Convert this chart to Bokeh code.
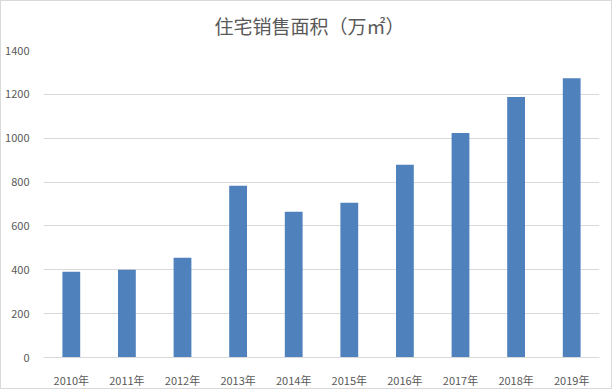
from bokeh.plotting import figure
from bokeh.models import Range1d, FactorRange, FixedTicker, InlineStyleSheet
from bokeh.embed import file_html
from bokeh.resources import INLINE

years = ["2010年", "2011年", "2012年", "2013年", "2014年", "2015年", "2016年", "2017年", "2018年", "2019年"]
areas = [391, 400, 455, 783, 665, 706, 879, 1024, 1188, 1274]
y_ticks = [0, 200, 400, 600, 800, 1000, 1200, 1400]
title_text = "住宅销售面积（万㎡）"

FONT = "Noto Sans CJK SC"
TXT = "#595959"
GRID = "#d9d9d9"

p = figure(width=612, height=389, output_backend="svg", toolbar_location=None,
           x_range=FactorRange(*years, range_padding=0), y_range=Range1d(0, 1400),
           min_border_left=42, min_border_right=14, min_border_top=0, min_border_bottom=32)
p.stylesheets = [InlineStyleSheet(css=":host { border: 1px solid #d9d9d9; }")]

p.vbar(x=years, top=areas, width=0.32, color="#4f81bd", line_color=None)

p.title.text = title_text
p.title.align = "left"
p.title.vertical_align = "top"
p.title.text_font = FONT
p.title.text_font_size = "19px"
p.title.text_font_style = "normal"
p.title.text_color = TXT
p.title.standoff = 20
p.title.offset = 171

p.outline_line_color = None
p.xgrid.grid_line_color = None
p.ygrid.grid_line_color = GRID
p.ygrid.ticker = FixedTicker(ticks=y_ticks)

p.yaxis.ticker = FixedTicker(ticks=y_ticks)
p.yaxis.axis_line_color = None
p.yaxis.major_tick_line_color = None
p.yaxis.minor_tick_line_color = None
p.yaxis.major_label_standoff = 8
p.yaxis.major_label_text_font = FONT
p.yaxis.major_label_text_font_size = "11px"
p.yaxis.major_label_text_color = TXT

p.xaxis.axis_line_color = GRID
p.xaxis.major_tick_line_color = None
p.xaxis.minor_tick_line_color = None
p.xaxis.major_label_standoff = 8
p.xaxis.major_label_text_font = FONT
p.xaxis.major_label_text_font_size = "11px"
p.xaxis.major_label_text_color = TXT

open("out.html", "w").write(file_html(p, INLINE))
